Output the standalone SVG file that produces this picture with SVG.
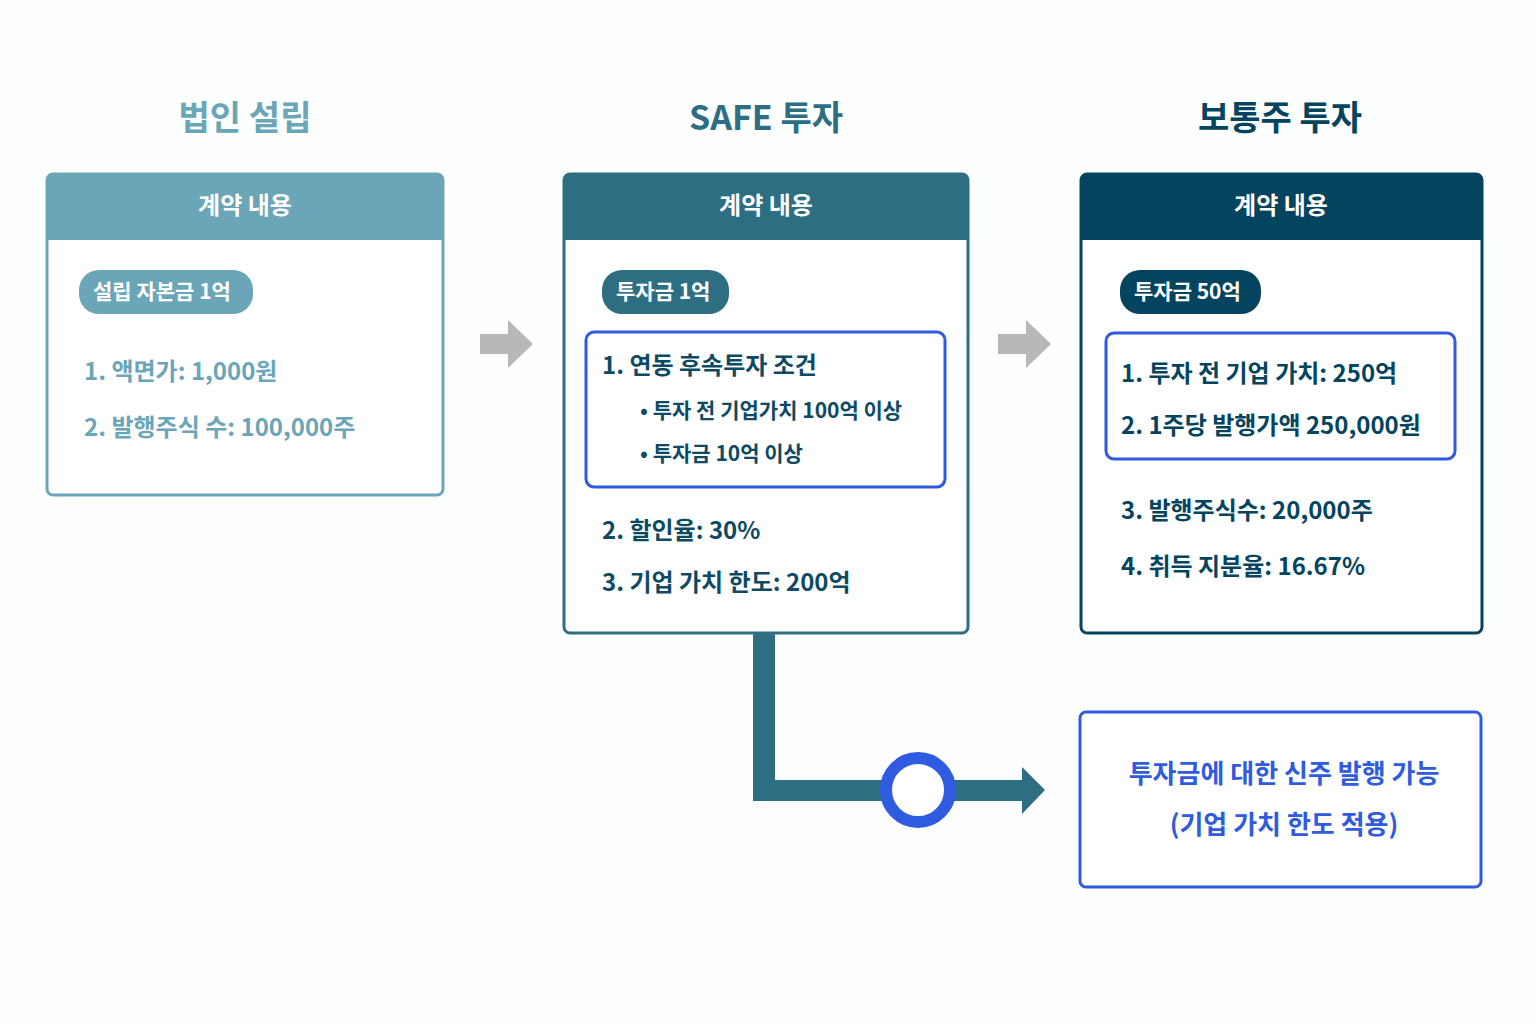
<svg xmlns="http://www.w3.org/2000/svg" width="1536" height="1024" viewBox="0 0 1536 1024">
<style>
text{font-family:"Noto Sans CJK KR","Noto Sans",sans-serif;font-weight:700}
.title{font-size:34px;text-anchor:middle}
.hd{font-size:24px;fill:#fff;text-anchor:middle}
.pill{font-size:21px;fill:#fff}
.item{font-size:24px}
.sub{font-size:21px;fill:#0d4a63}
.hl{fill:none;stroke:#2f5be0;stroke-width:3}
</style>
<rect width="1536" height="1024" fill="#fdfefe"/>
<g id="col1">
<text class="title" x="245" y="130" fill="#6aa6b8">법인 설립</text>
<rect x="47" y="174" width="396" height="321" rx="6" fill="#fff" stroke="#6aa6b8" stroke-width="3"/>
<path d="M47 240V180a6 6 0 0 1 6-6h384a6 6 0 0 1 6 6v60z" fill="#6aa6b8"/>
<text class="hd" x="245" y="214">계약 내용</text>
<rect x="79" y="270" width="174" height="44" rx="20" fill="#6aa6b8"/>
<text class="pill" x="93" y="299">설립 자본금 1억</text>
<text class="item" x="84" y="380" fill="#6aa6b8">1. 액면가: 1,000원</text>
<text class="item" x="84" y="436" fill="#6aa6b8">2. 발행주식 수: 100,000주</text>
</g>
<g id="col2">
<text class="title" x="766" y="130" fill="#2d6e82">SAFE 투자</text>
<rect x="564" y="174" width="404" height="459" rx="6" fill="#fff" stroke="#2d6e82" stroke-width="3"/>
<path d="M564 240V180a6 6 0 0 1 6-6h392a6 6 0 0 1 6 6v60z" fill="#2d6e82"/>
<text class="hd" x="766" y="214">계약 내용</text>
<rect x="602" y="270" width="127" height="44" rx="20" fill="#2d6e82"/>
<text class="pill" x="616" y="299">투자금 1억</text>
<rect x="586" y="332" width="359" height="155" rx="8" class="hl"/>
<text class="item" x="602" y="374" fill="#0d4a63">1. 연동 후속투자 조건</text>
<text class="sub" x="640" y="418">•  투자 전 기업가치 100억 이상</text>
<text class="sub" x="640" y="461">•  투자금 10억 이상</text>
<text class="item" x="602" y="539" fill="#0d4a63">2. 할인율: 30%</text>
<text class="item" x="602" y="591" fill="#0d4a63">3. 기업 가치 한도: 200억</text>
</g>
<g id="col3">
<text class="title" x="1280" y="130" fill="#05445e">보통주 투자</text>
<rect x="1081" y="174" width="401" height="459" rx="6" fill="#fff" stroke="#05445e" stroke-width="3"/>
<path d="M1081 240V180a6 6 0 0 1 6-6h389a6 6 0 0 1 6 6v60z" fill="#05445e"/>
<text class="hd" x="1281" y="214">계약 내용</text>
<rect x="1120" y="270" width="141" height="44" rx="20" fill="#05445e"/>
<text class="pill" x="1134" y="299">투자금 50억</text>
<rect x="1106" y="333" width="349" height="126" rx="8" class="hl"/>
<text class="item" x="1121" y="382" fill="#05445e">1. 투자 전 기업 가치: 250억</text>
<text class="item" x="1121" y="434" fill="#05445e">2. 1주당 발행가액 250,000원</text>
<text class="item" x="1121" y="519" fill="#05445e">3. 발행주식수: 20,000주</text>
<text class="item" x="1121" y="575" fill="#05445e">4. 취득 지분율: 16.67%</text>
</g>
<g id="result">
<rect x="1080" y="712" width="401" height="175" rx="6" fill="#fff" stroke="#2f5be0" stroke-width="3"/>
<text x="1284" y="783" font-size="26" fill="#2f5be0" text-anchor="middle">투자금에 대한 신주 발행 가능</text>
<text x="1284" y="834" font-size="26" fill="#2f5be0" text-anchor="middle">(기업 가치 한도 적용)</text>
</g>
<g id="connectors">
<path d="M480 334h28v-14l25 24-25 24v-14h-28z" fill="#b8b8b8"/>
<path d="M998 334h28v-14l25 24-25 24v-14h-28z" fill="#b8b8b8"/>
<path d="M753 633h22v147h247v-13l23 23-23 24v-13H753z" fill="#2d6e82"/>
<circle cx="918" cy="790" r="32" fill="#fff" stroke="#2f5be0" stroke-width="12"/>
</g>
</svg>
